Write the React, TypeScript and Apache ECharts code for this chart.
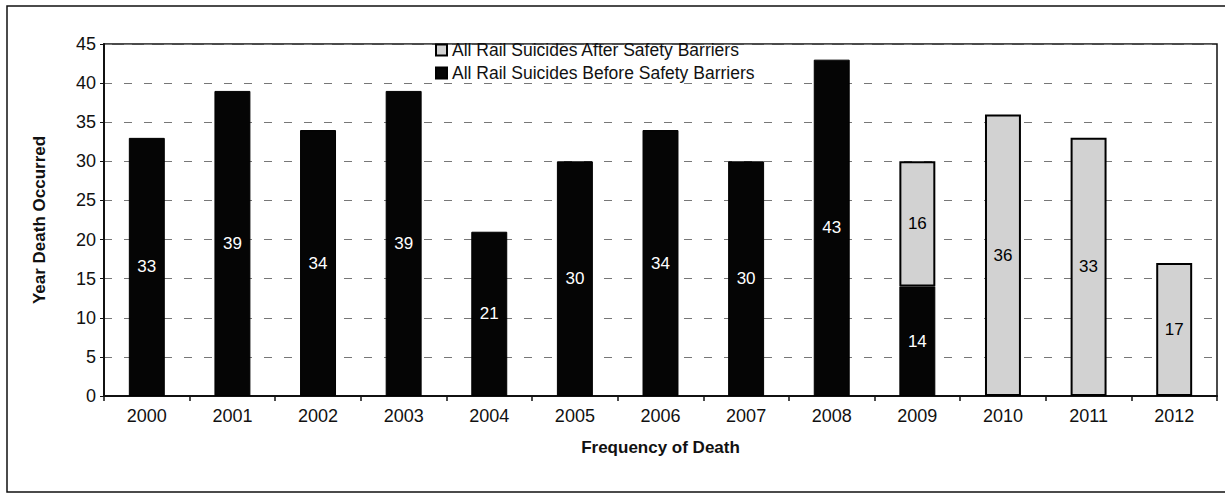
import React, { useEffect, useRef } from "react";
import * as echarts from "echarts";

const years = ["2000", "2001", "2002", "2003", "2004", "2005", "2006", "2007", "2008", "2009", "2010", "2011", "2012"];
const beforeBarriers = [33, 39, 34, 39, 21, 30, 34, 30, 43, 14, null, null, null];
const afterBarriers = [null, null, null, null, null, null, null, null, null, 16, 36, 33, 17];
const seriesNames = ["All Rail Suicides Before Safety Barriers", "All Rail Suicides After Safety Barriers"];
const yAxisName = "Year Death Occurred";
const xAxisName = "Frequency of Death";

export default function App() {
  const ref = useRef<HTMLDivElement>(null);
  useEffect(() => {
    if (!ref.current) return;
    const chart = echarts.init(ref.current, null, { renderer: "svg" });
    const font = "Arial, 'Liberation Sans', sans-serif";
    chart.setOption({
      animation: false,
      textStyle: { fontFamily: font },
      graphic: [
        {
          type: "rect",
          shape: { x: 7, y: 6, width: 1240, height: 486 },
          style: { fill: "none", stroke: "#111", lineWidth: 1.5 },
          silent: true,
          z: 0,
        },
      ],
      legend: {
        orient: "vertical",
        left: 430,
        top: 36,
        itemWidth: 11,
        itemHeight: 11,
        itemGap: 5,
        icon: "rect",
        data: [seriesNames[1], seriesNames[0]],
        textStyle: { fontFamily: font, fontSize: 17.5, color: "#111" },
      },
      grid: { left: 104, right: 8, top: 44, bottom: 98, show: true, borderColor: "#111", borderWidth: 1.5, backgroundColor: "transparent" },
      xAxis: {
        type: "category",
        data: years,
        name: xAxisName,
        nameLocation: "middle",
        nameGap: 43,
        nameTextStyle: { fontFamily: font, fontSize: 17, fontWeight: "bold", color: "#111" },
        axisLine: { lineStyle: { color: "#111", width: 2 } },
        axisTick: { show: true, length: 5, lineStyle: { color: "#111", width: 1.5 } },
        axisLabel: { fontFamily: font, fontSize: 18, color: "#111", margin: 11 },
      },
      yAxis: {
        type: "value",
        min: 0,
        max: 45,
        interval: 5,
        name: yAxisName,
        nameLocation: "middle",
        nameGap: 56,
        nameTextStyle: { fontFamily: font, fontSize: 17, fontWeight: "bold", color: "#111" },
        axisLine: { show: true, lineStyle: { color: "#111", width: 2 } },
        axisTick: { show: true, length: 4, lineStyle: { color: "#111" } },
        axisLabel: { fontFamily: font, fontSize: 18, color: "#111", margin: 8 },
        splitLine: { show: true, lineStyle: { color: "#777", type: [8, 12], width: 1 } },
      },
      series: [
        {
          name: seriesNames[0],
          type: "bar",
          stack: "total",
          data: beforeBarriers,
          barWidth: "42%",
          itemStyle: { color: "#050505", borderColor: "#000", borderWidth: 1 },
          label: { show: true, position: "inside", color: "#fff", fontFamily: font, fontSize: 17 },
        },
        {
          name: seriesNames[1],
          type: "bar",
          stack: "total",
          data: afterBarriers,
          barWidth: "42%",
          itemStyle: { color: "#d2d2d2", borderColor: "#000", borderWidth: 2 },
          label: { show: true, position: "inside", color: "#000", fontFamily: font, fontSize: 17 },
        },
      ],
    });
    return () => chart.dispose();
  }, []);
  return <div ref={ref} style={{ position: "absolute", left: 0, top: 0, width: 1225, height: 494, background: "#fff" }} />;
}
